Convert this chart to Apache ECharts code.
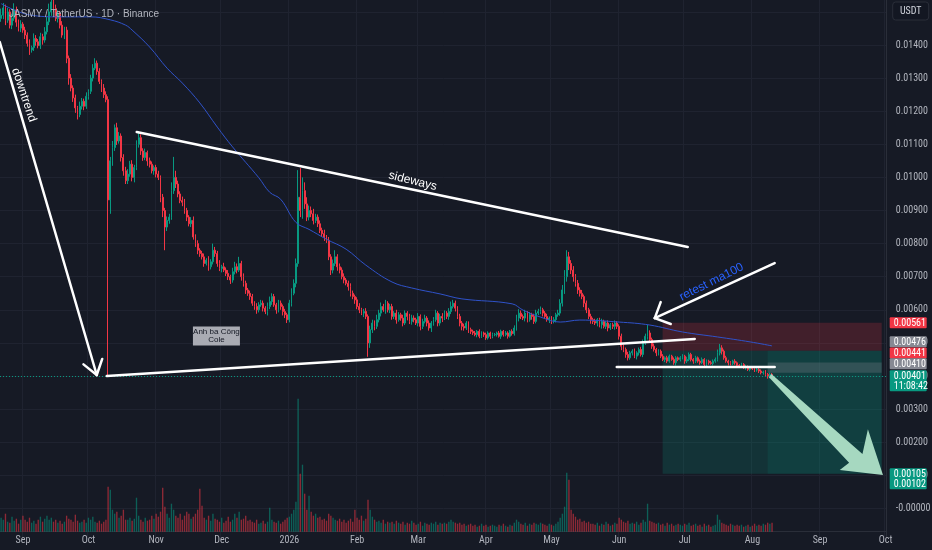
<!DOCTYPE html>
<html><head><meta charset="utf-8">
<script src="https://cdn.jsdelivr.net/npm/echarts@6/dist/echarts.min.js"></script>
<style>html,body{margin:0;padding:0;background:#161a25;}#c{width:932px;height:550px;}</style>
</head><body><div id="c"></div>
<script>
// ---------- data ----------
const chartTitle = 'JASMY / TetherUS · 1D · Binance';
const startDate = [2025, 7, 22];      // first candle: 2025-08-22
const axisDays = 406;                 // axis runs to 2026-10-01
const firstOpen = 1480;               // prices in units of 0.00001 USDT
const closes = [1490,1512,1475,1500,1460,1481,1506,1469,1451,1463,1445,
1430,1405,1385,1392,1420,1410,1398,1425,1415,1440,
1470,1500,1530, 1510,1480,1495, 1460,1430,1445, 1360,1300,
1270,1240,1210,1190,1215, 1230,1215,1245,1260, 1300,1330,1345, 1320,1290,1270,1250, 1235,
932, 1050,1090, 1150,1110,1125, 1060,1020,990, 1010,1040,1000,1030, 1100,1120,
1080,1060,1075,1050, 1040,1020,1030, 1010,1000, 940,900,850,870, 880,960, 1000,980,
950,930,925, 900,880,860,870, 820,800,780,770, 760,740,750,730,745, 780,770,
740,725,730,720, 710,700,690,715, 730,720,740,700, 680,660,650,640, 620,610,600,615,
620,605,595,610, 625,640,615,600,620,610,595, 585,570, 620,650,680,740,
940,900,960, 920,880,900, 890,870,880,860, 840,830,820,810, 760,720, 740,760,730,720,
700,690,680,670, 650,640,630, 610,600,590,595,580, 500, 540,560,550,570,
590,610,600,620,600,610, 580,590,570,585, 575,560,590,580,565,575,
570,560,580,550,565,575,560,545,560, 570,590,560,580,575, 590,580,595, 610,620,605,
580,560,550, 545,560,540,535, 530,525,535,520,530,525,515,530,520,525,
525,530,520,535,525,530,520,535,528, 545,575,590, 580,575,590,570,585,580,565,590,
595,600,590, 580,570,575,565,570,585,590, 620,660,700,760,740, 720,700,680,660,
650,640,620, 600,580,570, 565,560,570,555,565,550,560,545,555,550,560,550,
520,490,480,465,455,470, 475,460,470,480,465, 500,520,530,510, 490,480,470,475,
460,450,455,445,460,450,440,455,450, 455,460,445,450,465,450,445,455,
445,440,450,435,445,440,438,445,450, 470,485,475, 455,445,440,438,445,440,432,
430,435,425,428,420,425,422,418,420, 415,410,412,405,398,405,401];
const wickUp = [20,15,10,12,8,14,20,10,8,12,6, 10,8,12,6,15,10,8,12,9,14,
15,25,30, 20,12,10, 8,12,10, 10,8, 12,8,10,6,14, 10,8,12,6, 10,12,15, 8,10,6,12, 10,
10, 12,20, 10,15,12, 8,10,12, 15,10,12,8, 12,17, 10,8,12,6, 10,8,6, 8,10, 6,10,8,12, 10,25, 62,20,
10,8,12, 10,8,6,10, 12,8,10,6, 8,10,6,12,8, 20,10,
8,10,6,12, 8,10,6,12, 15,10,20,8, 10,8,6,8, 8,6,10,8,
10,8,6,12, 15,10,8,6,10,8,6, 8,6, 10,15,12,15,
82,88,40, 25,20,15, 12,15,10,8, 10,8,12,6, 10,8, 12,20,8,10,
8,10,6,8, 10,8,6, 8,10,6,8,10, 6, 12,10,8,15,
10,12,8,10,6,8, 8,6,10,8, 6,10,8,6,8,10,
8,6,10,6,8,10,6,8,6, 8,10,6,8,10, 8,6,10, 15,10,8,
6,8,6, 8,6,5,6, 5,6,4,6,5,4,6,5,4,6,
5,4,6,5,4,6,5,4,6, 8,10,12, 8,6,10,6,8,6,8,10,
8,10,6, 6,8,5,6,8,6,10, 12,15,20,20,15, 10,12,8,10,
8,10,6, 8,6,8, 6,8,5,6,8,5,6,8,5,6,8,6,
6,8,5,6,8,6, 6,8,5,6,8, 10,8,24,8, 6,8,5,6,
5,6,4,6,5,4,6,5,4, 5,6,4,8,6,5,4,6,
4,5,6,4,5,4,6,5,6, 10,12,8, 5,6,4,5,4,6,4,
4,5,4,6,4,5,4,5,4, 4,5,4,6,4,5,4];
const wickDn = [10,12,15,8,10,12,8,14,10,12,8, 12,10,15,8,10,12,8,10,14,8,
8,10,12, 10,8,12, 10,8,12, 15,20, 10,12,15,15,8, 10,12,8,10, 8,10,6, 10,8,12,10, 8,
529, 42,15, 10,12,8, 12,15,10, 10,8,12,15, 8,10, 12,10,8,15, 10,8,12, 10,8, 15,20,70,12, 10,8, 10,12,
10,8,12, 10,12,8,10, 8,10,12,10, 8,10,6,12,8, 8,10,
10,8,12,6, 8,10,12,8, 8,10,6,12, 10,12,8,10, 8,10,12,8,
6,10,8,12, 8,10,6,12,8,10,12, 10,10, 8,10,6,12,
10,20,25, 15,12,10, 10,12,8,10, 8,10,12,8, 10,15, 10,8,12,10,
8,10,6,12, 10,8,12, 8,10,6,12,8, 42, 15,10,12,8,
8,10,6,12,8,10, 10,8,12,6, 8,10,6,12,8,10,
8,6,10,12,8,6,10,8,12, 8,6,10,8,12, 6,8,10, 8,6,10,
8,10,12, 8,6,10,8, 6,5,8,6,5,7,6,5,8,6,
5,6,4,8,6,5,7,4,6, 6,8,10, 8,6,10,8,6,10,8,6,
6,8,10, 8,6,10,8,6,8,6, 8,10,12,15,20, 12,15,10,12,
10,8,12, 10,8,12, 8,6,10,8,12,6,8,10,6,8,10,8,
10,12,8,10,8,6, 8,6,10,8,6, 8,6,10,8, 8,6,10,8,
6,5,8,6,5,4,6,8,5, 6,5,8,6,5,6,8,6,
5,6,4,8,5,6,4,6,5, 6,8,10, 6,5,8,6,5,6,8,
5,6,4,6,5,6,4,6,5, 6,5,6,8,6,5,4];
const volumes = [14,12,18,10,9,15,11,13,8,12,16, 12,10,14,9,11,8,12,15,10,13,
16,12,14, 10,12,9, 11,8,10, 16,13, 12,10,17,11,9, 10,12,9,14, 12,15,10, 9,11,8,10, 12,
45, 42,22, 18,20,14, 16,22,12, 12,14,11,13, 34,16, 12,10,14,11, 12,16,13, 18,15, 20,44,25,18, 14,28, 22,16,
14,18,12, 16,20,18,13, 15,18,22,43, 26,14,12,16,11, 18,13,
12,10,14,9, 11,15,10,12, 18,14,20,12, 13,16,11,12, 10,9,12,8,
9,11,8,10, 24,12,10,9,11,8,10, 12,14, 15,18,22,30,
133,58,67, 38,22,36, 20,16,18,14, 15,12,13,11, 18,16, 14,12,11,13,
10,12,9,11, 13,10,22, 14,12,16,11,13, 32, 22,15,12,10,
11,9,12,8,10,9, 10,8,11,9, 8,10,7,9,8,11,
9,7,8,10,6,9,8,7,9, 8,10,7,9,8, 9,8,10, 12,10,9,
8,9,7, 8,6,7,8, 6,7,5,6,8,6,7,5,6,7,
6,5,7,6,8,6,5,7,6, 9,12,10, 8,7,9,6,8,7,9,8,
7,9,8, 7,6,8,7,6,8,10, 14,18,25,59,52, 22,18,15,12,
13,10,11, 9,10,8, 8,7,9,6,8,7,10,8,6,7,9,8,
14,12,10,9,11,8, 9,8,10,7,9, 12,10,28,11, 10,9,8,9,
7,8,6,9,7,8,6,7,8, 7,6,8,7,9,6,7,8,
6,7,5,8,6,7,5,6,7, 17,12,9, 8,7,6,8,7,6,7,
6,7,5,6,7,5,6,8,6, 7,6,8,7,9,8,9];
// MA100: [candle index, price*1e5]
const ma100 = [[0,1525],[13,1491],[27,1485],[41,1485],[50,1476],[57,1460],[60,1445],[68,1394],
[76,1330],[83,1285],[91,1225],[99,1152],[106,1092],[118,999],[123,955],[128,934],[135,864],
[141,843],[149,813],[158,783],[167,735],[179,684],[188,666],[201,648],[211,633],[234,618],
[239,599],[247,578],[256,563],[265,569],[283,563],[297,554],[312,533],[328,518],[343,503],[353,491]];
const lastPrice = 0.00401;
// drawings in (candle index, price)
const drawLines = [
  {from:[-0.6,0.01409], to:[43.8,0.00403], arrow:35},
  {from:[62.1,0.01137], to:[314.4,0.00790]},
  {from:[48.4,0.00400], to:[317.6,0.00512]},
  {from:[281.9,0.00427], to:[354.2,0.00427]},
  {from:[354.2,0.00741], to:[299.3,0.00575], arrow:45}
];
const greenArrow = [[352.7,0.00406],[394.4,0.00164],[396.9,0.00239],[403.8,0.00101],[384.0,0.00116],[388.3,0.00138],[351.6,0.00396]];
const zones = [
  {x:[302.9,403.2], p:[0.00476,0.00561], color:'rgba(242,54,69,0.2)'},
  {x:[302.9,403.2], p:[0.00105,0.00476], color:'rgba(8,153,129,0.2)'},
  {x:[351.0,403.2], p:[0.00105,0.00476], color:'rgba(8,153,129,0.12)'},
  {x:[351.0,403.2], p:[0.00410,0.00441], color:'rgba(120,123,134,0.32)'}
];
const notes = [
  {t:'downtrend', at:[10.4,0.01249], rot:-71.6, color:'#ffffff', size:12},
  {t:'sideways', at:[188.5,0.00989], rot:-14, color:'#ffffff', size:12},
  {t:'retest ma100', at:[325.3,0.00684], rot:26.6, color:'#2962ff', size:12}
];
const tagNote = {lines:['Anh ba Công','Cole'], at:[98.6,0.00521]};
const priceTags = [
  {t:['0.00561'], p:0.00561, bg:'#f23645', shift:0},
  {t:['0.00476'], p:0.00476, bg:'#868993', shift:-9},
  {t:['0.00441'], p:0.00441, bg:'#f23645', shift:-9.5},
  {t:['0.00410'], p:0.00410, bg:'#868993', shift:-9},
  {t:['0.00401','11:08:42'], p:0.00401, bg:'#089981', shift:0},
  {t:['0.00105','0.00102'], p:0.00105, bg:'#089981', shift:0}
];
const MONTHS = ['Jan','Feb','Mar','Apr','May','Jun','Jul','Aug','Sep','Oct','Nov','Dec'];

// ---------- build ----------
const FONT = "'Liberation Sans Narrow','Roboto Condensed','DejaVu Sans Condensed',sans-serif";
const cats = [];
const d0 = Date.UTC(startDate[0], startDate[1], startDate[2]);
for (let i = 0; i < axisDays; i++) cats.push(new Date(d0 + i * 86400000).toISOString().slice(0, 10));
const n = Math.min(closes.length, wickUp.length, wickDn.length, volumes.length);
const candles = [], vols = [];
let prev = firstOpen;
for (let i = 0; i < n; i++) {
  const o = prev, c = closes[i];
  const hi = Math.max(o, c) + wickUp[i], lo = Math.min(o, c) - wickDn[i];
  candles.push([o / 1e5, c / 1e5, lo / 1e5, hi / 1e5]);
  vols.push({value: volumes[i], itemStyle: {color: c >= o ? 'rgba(8,153,129,0.55)' : 'rgba(242,54,69,0.55)'}});
  prev = c;
}
const isMonthStart = (i, v) => typeof v === 'string' && v.slice(8) === '01';
const monthLabel = v => { const m = +v.slice(5, 7); return m === 1 ? v.slice(0, 4) : MONTHS[m - 1]; };
const gridCol = '#1f2330';
const splitCols = ['rgba(0,0,0,0)']; for (let i = 0; i < 17; i++) splitCols.push(gridCol);

const option = {
  backgroundColor: '#161a25',
  animation: false,
  title: {text: chartTitle, left: 4, top: 4, textStyle: {color: '#b2b5be', fontSize: 10, fontWeight: 'normal', fontFamily: 'Liberation Sans, sans-serif'}},
  grid: [
    {left: 0, right: 45.3, top: -21.2, bottom: 8.5, containLabel: false, outerBoundsMode: 'none'},
    {left: 0, right: 45.3, top: 398.7, bottom: 18.3, containLabel: false, outerBoundsMode: 'none'}
  ],
  xAxis: [
    {type: 'category', gridIndex: 0, data: cats, boundaryGap: true,
     axisLine: {show: false}, axisTick: {show: false}, axisLabel: {show: false},
     splitLine: {show: true, interval: isMonthStart, lineStyle: {color: gridCol, width: 1}}},
    {type: 'category', gridIndex: 1, data: cats, boundaryGap: true,
     axisLine: {show: true, lineStyle: {color: '#2a2e39'}}, axisTick: {show: false},
     axisLabel: {show: true, interval: isMonthStart, formatter: monthLabel, color: '#b2b5be', fontSize: 10, margin: 4, fontFamily: FONT},
     splitLine: {show: false}}
  ],
  yAxis: [
    {type: 'value', gridIndex: 0, position: 'right', min: -0.001, max: 0.016, interval: 0.001, scale: false,
     axisLine: {show: true, lineStyle: {color: '#2a2e39'}}, axisTick: {show: false},
     axisLabel: {color: '#b2b5be', fontSize: 10, margin: 9, fontFamily: FONT,
       formatter: v => v < -0.0005 ? '' : (Math.abs(v) < 1e-12 ? '-0.00000' : v.toFixed(5))},
     splitLine: {show: true, lineStyle: {color: splitCols, width: 1}}},
    {type: 'value', gridIndex: 1, min: 0, max: 133, show: false, splitLine: {show: false}}
  ],
  series: [
    {type: 'candlestick', xAxisIndex: 0, yAxisIndex: 0, data: candles, barWidth: '62%', z: 3,
     itemStyle: {color: '#089981', color0: '#f23645', borderColor: '#089981', borderColor0: '#f23645', borderWidth: 1}},
    {type: 'line', xAxisIndex: 0, yAxisIndex: 0, data: ma100.map(([i, v]) => [i, v / 1e5]), smooth: 0.4,
     symbol: 'none', lineStyle: {color: '#2f52c9', width: 1}, z: 4},
    {type: 'bar', xAxisIndex: 1, yAxisIndex: 1, data: vols, barWidth: '62%', z: 1}
  ]
};

const chart = echarts.init(document.getElementById('c'), null, {renderer: 'canvas'});
chart.setOption(option);

// ---------- drawings through the chart's own scales ----------
const xa = chart.convertToPixel({gridIndex: 0}, [0, 0])[0];
const xb = chart.convertToPixel({gridIndex: 0}, [100, 0])[0];
const step = (xb - xa) / 100;
const pt = (i, p) => [xa + i * step, chart.convertToPixel({gridIndex: 0}, [0, p])[1]];
const axL = xa - step / 2, axX = axL + axisDays * step;
const g = [];
zones.forEach(z => {
  const a = pt(z.x[0], z.p[1]), b = pt(z.x[1], z.p[0]);
  g.push({type: 'rect', z: 1, silent: true, shape: {x: a[0], y: a[1], width: b[0] - a[0], height: b[1] - a[1]}, style: {fill: z.color}});
});
{
  const y = Math.round(pt(0, lastPrice)[1]) + 0.5;
  g.push({type: 'line', z: 5, silent: true, shape: {x1: axL, y1: y, x2: axX, y2: y},
    style: {stroke: '#089981', lineWidth: 1, lineDash: [1, 2]}});
}
g.push({type: 'polygon', z: 60, silent: true, shape: {points: greenArrow.map(q => pt(q[0], q[1]))}, style: {fill: '#a6d8c0'}});
drawLines.forEach(l => {
  const a = pt(l.from[0], l.from[1]), b = pt(l.to[0], l.to[1]);
  g.push({type: 'polyline', z: 60, silent: true, shape: {points: [a, b]}, style: {stroke: '#ffffff', lineWidth: 2.5, lineCap: 'round'}});
  if (l.arrow) {
    const ang = Math.atan2(a[1] - b[1], a[0] - b[0]), len = 17;
    [1, -1].forEach(s => {
      const t = ang + s * l.arrow * Math.PI / 180;
      g.push({type: 'polyline', z: 60, silent: true, shape: {points: [b, [b[0] + len * Math.cos(t), b[1] + len * Math.sin(t)]]},
        style: {stroke: '#ffffff', lineWidth: 2.5, lineCap: 'round'}});
    });
  }
});
notes.forEach(t => {
  const c = pt(t.at[0], t.at[1]);
  g.push({type: 'text', z: 61, silent: true, x: c[0], y: c[1], rotation: t.rot * Math.PI / 180,
    style: {text: t.t, fill: t.color, fontSize: t.size, fontFamily: 'Liberation Sans, sans-serif', align: 'center', verticalAlign: 'middle'}});
});
{
  const c = pt(tagNote.at[0], tagNote.at[1]);
  g.push({type: 'rect', z: 61, silent: true, shape: {x: c[0] - 23.5, y: c[1] - 9.5, width: 47, height: 19}, style: {fill: '#a9abb3'}});
  g.push({type: 'text', z: 62, silent: true, x: c[0], y: c[1], style: {text: tagNote.lines.join('\n'), fill: '#131722', fontSize: 8, lineHeight: 8,
    fontFamily: 'Liberation Sans, sans-serif', align: 'center', verticalAlign: 'middle'}});
}
priceTags.forEach(tg => {
  const y = pt(0, tg.p)[1] + tg.shift;
  const h = tg.t.length === 1 ? 11 : 21;
  const top = y - 5.5;
  g.push({type: 'rect', z: 70, silent: true, shape: {x: axX + 3, y: top, width: 37, height: h, r: 1}, style: {fill: tg.bg}});
  g.push({type: 'text', z: 71, silent: true, x: axX + 7, y: top + 1, style: {text: tg.t.join('\n'), fill: '#ffffff', fontSize: 10, lineHeight: 10, fontFamily: FONT, align: 'left', verticalAlign: 'top'}});
});
g.push({type: 'rect', z: 70, silent: true, shape: {x: axX + 6, y: 2, width: 36, height: 18, r: 3}, style: {fill: '#131722', stroke: '#2a2e39', lineWidth: 1}});
g.push({type: 'text', z: 71, silent: true, x: axX + 24, y: 11, style: {text: 'USDT', fill: '#d1d4dc', fontSize: 10, fontFamily: FONT, align: 'center', verticalAlign: 'middle'}});
chart.setOption({graphic: g});
</script>
</body></html>
